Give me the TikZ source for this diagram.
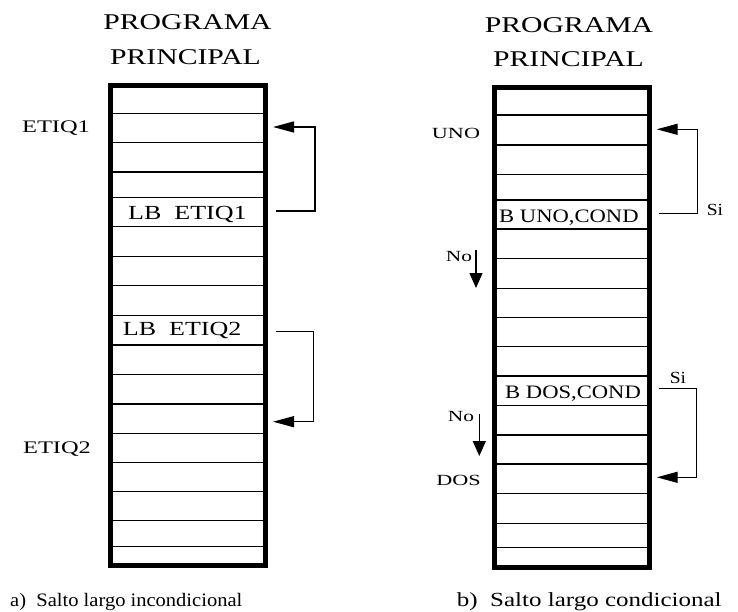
\documentclass[tikz,border=0pt]{standalone}
\usepackage{fontspec}
\setmainfont{Liberation Serif}
\usetikzlibrary{arrows.meta}
% horizontally widened text
\newcommand{\wide}[2]{\scalebox{#1}[1]{#2}}
\tikzset{
  frame/.style={draw, line width=5pt, inner sep=0pt, minimum width=155pt, minimum height=480pt},
  rowline/.style={line width=1.3pt},
  jump/.style={line width=1.4pt, -{Triangle[length=21pt,width=11pt]}},
  fall/.style={line width=1.4pt, -{Triangle[length=15pt,width=13pt]}},
  txt/.style={inner sep=0pt, anchor=base},
  rowtxt/.style={inner sep=0pt, anchor=base west},
}
\begin{document}
\begin{tikzpicture}[x=1pt,y=-1pt]
\useasboundingbox (0,0) rectangle (738,612);

% ---------- a) unconditional long jump ----------
\node[txt, font=\fontsize{22.5}{24}\selectfont] (tA1) at (187.5,30) {\wide{1.32}{PROGRAMA}};
\node[txt, font=\fontsize{22.5}{24}\selectfont] (tA2) at (185.5,65) {\wide{1.32}{PRINCIPAL}};

\foreach \y in {113.3,142.7,172,197.7,226.7,256.7,285.7,315.7,345,374.3,404,433.3,462.3,491.7,520.7,546.7}
  \draw[rowline] (110.5,\y) -- (265.5,\y);
\node[frame] (progA) at (188,325.5) {};

\node[rowtxt, font=\fontsize{20}{22}\selectfont] (lb1) at (128,220) {\wide{1.3}{LB\ \ ETIQ1}};
\node[rowtxt, font=\fontsize{20}{22}\selectfont] (lb2) at (122.7,335) {\wide{1.3}{LB\ \ ETIQ2}};

\node[txt, font=\fontsize{17.7}{20}\selectfont] (et1) at (56,133) {\wide{1.38}{ETIQ1}};
\node[txt, font=\fontsize{17.7}{20}\selectfont] (et2) at (57,453) {\wide{1.38}{ETIQ2}};

\coordinate (a1from) at (275.5,211);
\coordinate (a1to)   at (273,127);
\coordinate (a2from) at (275.5,331.7);
\coordinate (a2to)   at (273,421.7);
\draw[jump] (a1from) -- ++(39.5,0) |- (a1to);
\draw[jump] (a2from) -- ++(38,0) |- (a2to);

\node[rowtxt, font=\fontsize{19}{21}\selectfont] (capA) at (10,606.7) {\wide{1.08}{a)\ \ Salto largo incondicional}};

% ---------- b) conditional long jump ----------
\node[txt, font=\fontsize{22.5}{24}\selectfont] (tB1) at (569,33) {\wide{1.32}{PROGRAMA}};
\node[txt, font=\fontsize{22.5}{24}\selectfont] (tB2) at (568.5,66.5) {\wide{1.32}{PRINCIPAL}};

\foreach \y in {115,145,174.3,200,229,258.3,288.3,317.3,346.7,376,405.7,435,464,493.3,523.3,547.7}
  \draw[rowline] (494,\y) -- (649.5,\y);
\node[frame] (progB) at (571.75,327.5) {};

\node[rowtxt, font=\fontsize{19}{21}\selectfont] (bc1) at (499,222.7) {\wide{1.19}{B UNO,COND}};
\node[rowtxt, font=\fontsize{19}{21}\selectfont] (bc2) at (505,398.3) {\wide{1.19}{B DOS,COND}};

\node[txt, font=\fontsize{15.5}{18}\selectfont] (uno) at (456,138.3) {\wide{1.43}{UNO}};
\node[txt, font=\fontsize{15.5}{18}\selectfont] (dos) at (458.5,485) {\wide{1.43}{DOS}};

\coordinate (b1from) at (659,213.3);
\coordinate (b1to)   at (656.7,129.3);
\coordinate (b2from) at (659,388.3);
\coordinate (b2to)   at (656.7,477.3);
\draw[jump] (b1from) -- ++(38.7,0) |- (b1to);
\draw[jump] (b2from) -- ++(37.7,0) |- (b2to);

\node[txt, font=\fontsize{17}{19}\selectfont] (si1) at (715,215) {\wide{1.15}{Si}};
\node[txt, font=\fontsize{17}{19}\selectfont] (si2) at (678,383) {\wide{1.15}{Si}};

\node[txt, font=\fontsize{15.5}{17}\selectfont] (no1) at (459,261.7) {\wide{1.38}{No}};
\node[txt, font=\fontsize{15.5}{17}\selectfont] (no2) at (461,421.7) {\wide{1.38}{No}};
\coordinate (n1top) at (476,250);
\coordinate (n1tip) at (476,288);
\coordinate (n2top) at (479.3,414);
\coordinate (n2tip) at (479.3,456);
\draw[fall] (n1top) -- (n1tip);
\draw[fall] (n2top) -- (n2tip);

\node[rowtxt, font=\fontsize{20}{22}\selectfont] (capB) at (456.7,606.7) {\wide{1.25}{b)\ \ Salto largo condicional}};
\end{tikzpicture}
\end{document}
